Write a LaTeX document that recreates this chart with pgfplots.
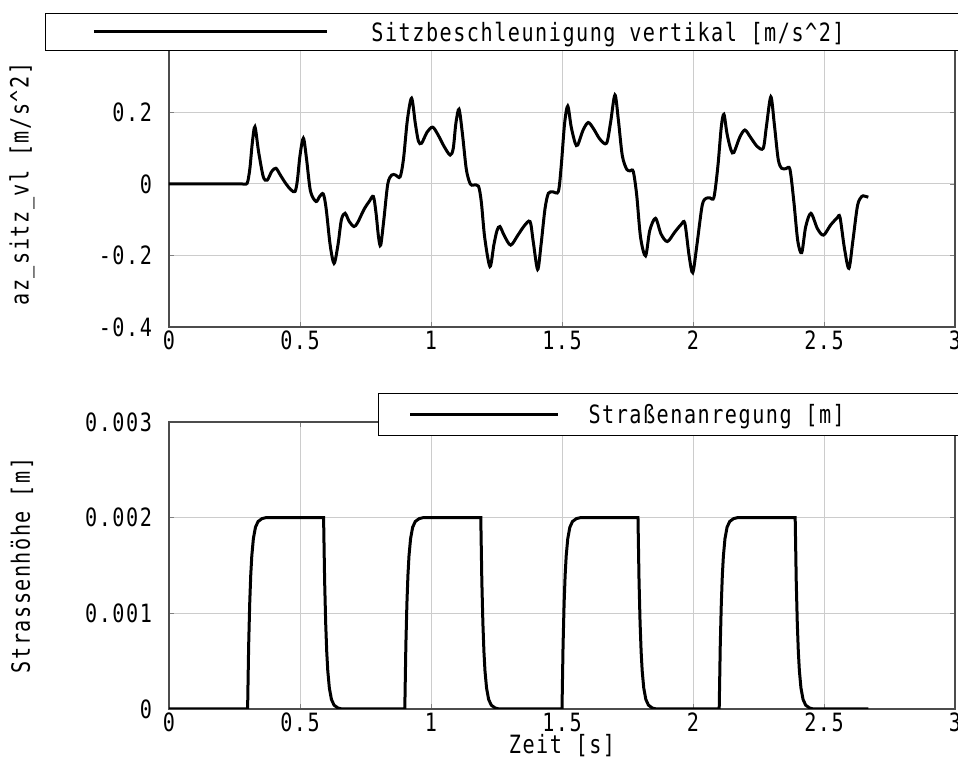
\documentclass[border=0pt]{standalone}
\usepackage{fontspec}
\setmainfont{DejaVu Sans Mono}[FakeStretch=0.8, LetterSpace=6]
\usepackage{pgfplots}
\pgfplotsset{compat=1.18}

\pgfplotsset{
  panel/.style={
    scale only axis, width=393pt, anchor=south west,
    xmin=0, xmax=3, xtick={0,0.5,1,1.5,2,2.5,3},
    grid=major, grid style={black!20, line width=0.5pt},
    axis line style={black!70, line width=0.6pt},
    tick align=inside, major tick length=2.5pt, tick style={black!50},
    /pgf/number format/assume math mode=true,
    scaled ticks=false,
    xticklabel style={/pgf/number format/fixed, yshift=1.5pt},
    yticklabel style={/pgf/number format/fixed, /pgf/number format/precision=3, xshift=-5pt},
    every axis y label/.style={at={(axis description cs:-0.187,0.5)}, rotate=90, anchor=center},
    every axis x label/.style={at={(axis description cs:0.5,-0.128)}, anchor=center},
    font=\fontsize{12.6}{14}\selectfont,
    legend cell align=left,
  },
  curve/.style={black, line width=1.5pt},
}

\begin{document}
\begin{tikzpicture}[font=\fontsize{12.6}{14}\selectfont]
\useasboundingbox (0,0) rectangle (479pt,379pt);

% oberes Diagramm: Sitzbeschleunigung
\begin{axis}[panel, at={(84.5pt,215.5pt)}, height=143pt,
  ymin=-0.4, ymax=0.4, ytick={-0.4,-0.2,0,0.2},
  ylabel={az\_sitz\_vl [m/s\textasciicircum 2]},
  legend image code/.code={\draw[#1] (0pt,0pt) -- (116.5pt,0pt);},
  legend style={at={(axis description cs:-0.1578,1.0979)}, anchor=north west,
    draw=black, line width=0.5pt, fill=white, inner xsep=23.5pt, inner ysep=0pt,
    nodes={inner sep=0pt, text depth=0pt}, /tikz/every odd column/.style={column sep=21.5pt}},
]
\addplot[curve, smooth, tension=0.5] coordinates {
(0,0) (0.15,0) (0.28,0) (0.295,0) (0.301,0.008) (0.309,0.045) (0.318,0.115) (0.328,0.160)
(0.342,0.09) (0.36,0.02)
(0.375,0.011) (0.392,0.035) (0.408,0.044) (0.425,0.025) (0.445,0.002) (0.465,-0.016)
(0.481,-0.021) (0.49,0.01) (0.50,0.08) (0.513,0.128) (0.525,0.07) (0.54,-0.02)
(0.561,-0.049) (0.575,-0.035) (0.589,-0.028) (0.60,-0.07) (0.615,-0.17) (0.630,-0.222)
(0.645,-0.17) (0.658,-0.10) (0.672,-0.082) (0.688,-0.105) (0.706,-0.119) (0.72,-0.108)
(0.745,-0.07) (0.765,-0.048) (0.780,-0.035) (0.79,-0.08) (0.800,-0.15) (0.808,-0.171)
(0.82,-0.10) (0.835,0.0) (0.850,0.025) (0.865,0.025) (0.882,0.020) (0.895,0.07)
(0.910,0.18) (0.926,0.240) (0.940,0.17) (0.952,0.12) (0.964,0.114) (0.985,0.145)
(1.006,0.159) (1.025,0.14) (1.05,0.105) (1.073,0.081) (1.085,0.10) (1.095,0.17)
(1.107,0.209) (1.12,0.14) (1.135,0.04) (1.150,0.0) (1.162,-0.003) (1.181,-0.006)
(1.192,-0.05) (1.205,-0.15) (1.225,-0.231) (1.24,-0.17) (1.252,-0.13) (1.263,-0.119)
(1.28,-0.145) (1.304,-0.171) (1.33,-0.145) (1.355,-0.118) (1.378,-0.105) (1.39,-0.16)
(1.407,-0.239) (1.42,-0.17) (1.435,-0.07) (1.448,-0.026) (1.466,-0.022) (1.486,-0.021)
(1.497,0.05) (1.51,0.17) (1.522,0.218) (1.535,0.16) (1.550,0.115) (1.560,0.109)
(1.58,0.15) (1.600,0.172) (1.62,0.155) (1.645,0.125) (1.670,0.114) (1.685,0.17)
(1.702,0.249) (1.715,0.18) (1.73,0.08) (1.747,0.041) (1.760,0.037) (1.772,0.035)
(1.785,-0.03) (1.800,-0.15) (1.819,-0.201) (1.835,-0.13) (1.857,-0.096) (1.878,-0.14)
(1.902,-0.161) (1.93,-0.135) (1.955,-0.113) (1.969,-0.110) (1.985,-0.2) (1.999,-0.248)
(2.015,-0.17) (2.035,-0.06) (2.050,-0.040) (2.065,-0.039) (2.080,-0.037) (2.095,0.05)
(2.108,0.16) (2.118,0.195) (2.13,0.14) (2.145,0.095) (2.156,0.088) (2.178,0.13)
(2.198,0.151) (2.22,0.13) (2.245,0.105) (2.268,0.100) (2.28,0.16) (2.297,0.244)
(2.31,0.17) (2.325,0.07) (2.338,0.044) (2.355,0.043) (2.370,0.041) (2.385,-0.05)
(2.40,-0.16) (2.415,-0.192) (2.43,-0.12) (2.450,-0.082) (2.475,-0.125) (2.498,-0.143)
(2.525,-0.115) (2.55,-0.095) (2.561,-0.093) (2.578,-0.18) (2.595,-0.236) (2.61,-0.16)
(2.628,-0.06) (2.644,-0.035) (2.655,-0.034) (2.669,-0.037)
};
\addlegendentry{\raisebox{4.75pt}[18.5pt][0pt]{\makebox[273.5pt][l]{Sitzbeschleunigung vertikal [m/s\textasciicircum 2]}}}
\end{axis}

% unteres Diagramm: Strassenanregung
\begin{axis}[panel, at={(84.5pt,24.5pt)}, height=143.5pt,
  ymin=0, ymax=0.003, ytick={0,0.001,0.002,0.003},
  ylabel={Strassenhöhe [m]}, xlabel={Zeit [s]},
  legend image code/.code={\draw[#1] (0pt,0pt) -- (74pt,0pt);},
  legend style={at={(axis description cs:0.2659,1.1010)}, anchor=north west,
    draw=black, line width=0.5pt, fill=white, inner xsep=15pt, inner ysep=0pt,
    nodes={inner sep=0pt, text depth=0pt}, /tikz/every odd column/.style={column sep=14.5pt}},
]
\addplot[curve] coordinates {
(0,0) (0.30,0)
(0.304,0.00066) (0.308,0.0011) (0.312,0.0014) (0.316,0.0016) (0.322,0.00178) (0.33,0.0019) (0.34,0.00196) (0.355,0.00199) (0.37,0.002)
(0.59,0.002) (0.594,0.00134) (0.598,0.0009) (0.602,0.0006) (0.606,0.0004) (0.612,0.00022) (0.62,0.0001) (0.63,0.00004) (0.645,0.00001) (0.66,0)
(0.90,0)
(0.904,0.00066) (0.908,0.0011) (0.912,0.0014) (0.916,0.0016) (0.922,0.00178) (0.93,0.0019) (0.94,0.00196) (0.955,0.00199) (0.97,0.002)
(1.19,0.002) (1.194,0.00134) (1.198,0.0009) (1.202,0.0006) (1.206,0.0004) (1.212,0.00022) (1.22,0.0001) (1.23,0.00004) (1.245,0.00001) (1.26,0)
(1.50,0)
(1.504,0.00066) (1.508,0.0011) (1.512,0.0014) (1.516,0.0016) (1.522,0.00178) (1.53,0.0019) (1.54,0.00196) (1.555,0.00199) (1.57,0.002)
(1.79,0.002) (1.794,0.00134) (1.798,0.0009) (1.802,0.0006) (1.806,0.0004) (1.812,0.00022) (1.82,0.0001) (1.83,0.00004) (1.845,0.00001) (1.86,0)
(2.10,0)
(2.104,0.00066) (2.108,0.0011) (2.112,0.0014) (2.116,0.0016) (2.122,0.00178) (2.13,0.0019) (2.14,0.00196) (2.155,0.00199) (2.17,0.002)
(2.39,0.002) (2.394,0.00134) (2.398,0.0009) (2.402,0.0006) (2.406,0.0004) (2.412,0.00022) (2.42,0.0001) (2.43,0.00004) (2.445,0.00001) (2.46,0)
(2.669,0)
};
\addlegendentry{\raisebox{6pt}[21pt][0pt]{\makebox[173.5pt][l]{Straßenanregung [m]}}}
\end{axis}
\end{tikzpicture}
\end{document}
